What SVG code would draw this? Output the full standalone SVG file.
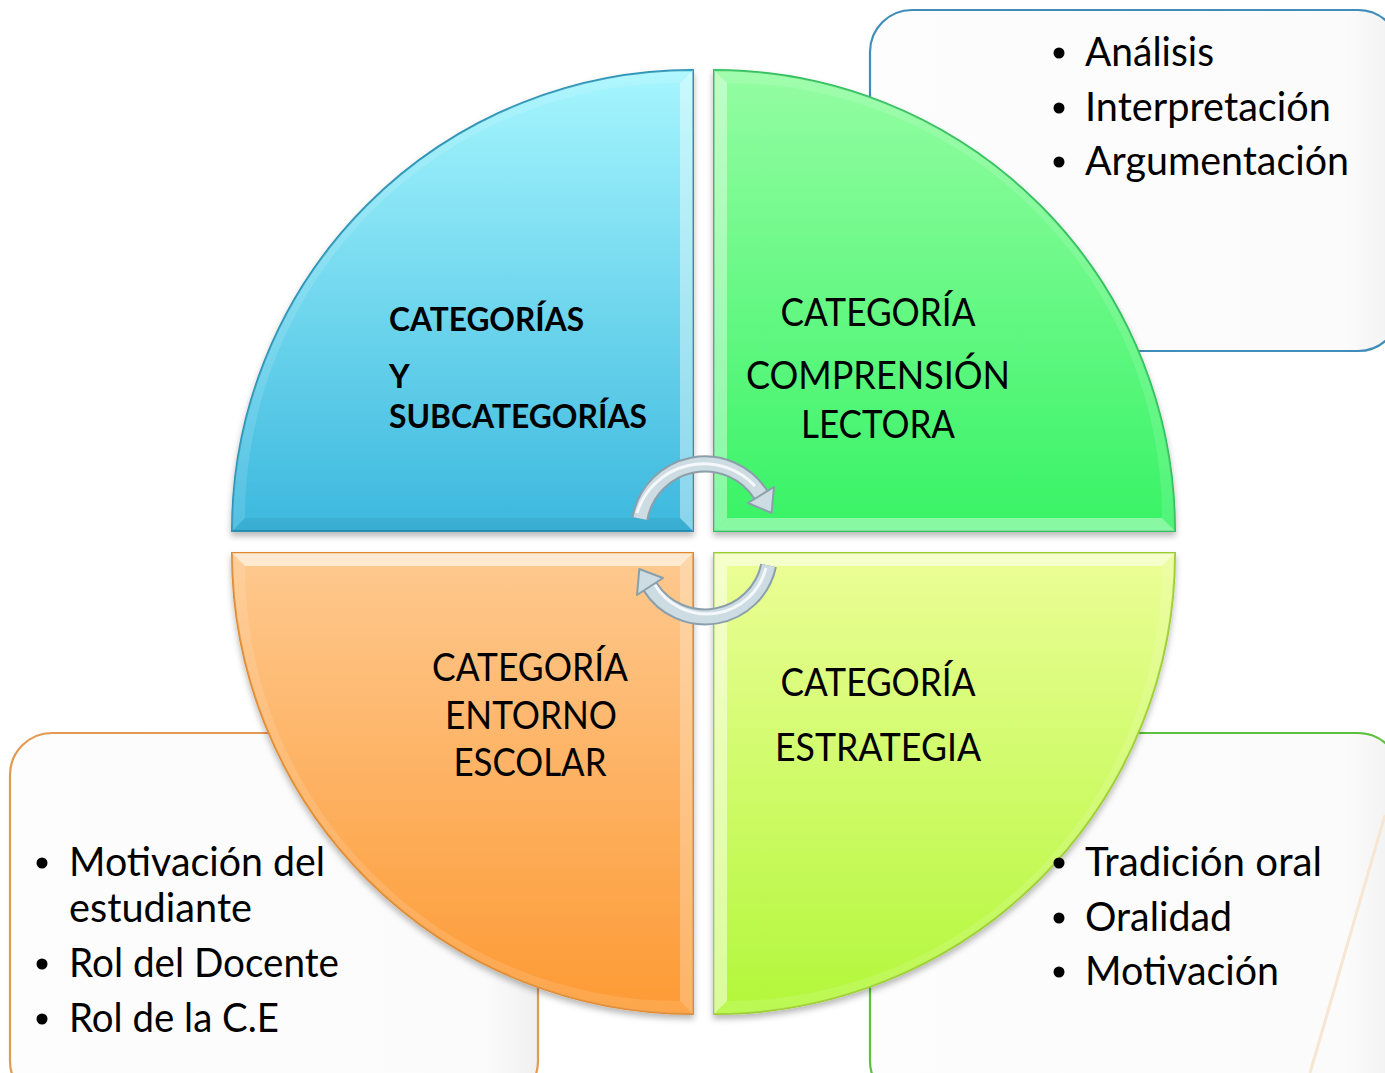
<svg xmlns="http://www.w3.org/2000/svg" width="1385" height="1073" viewBox="0 0 1385 1073">
<style>
.box{fill:url(#boxg);stroke-width:2.2}
.bt{font-family:Lato,"Liberation Sans",sans-serif;font-size:40px;fill:#000}
.ct{font-family:Lato,"Liberation Sans",sans-serif;font-size:38px;fill:#000;text-anchor:middle}
.cb{font-family:Lato,"Liberation Sans",sans-serif;font-size:32px;font-weight:bold;fill:#000}
.lite{fill:#fff;opacity:0.4}
.dark{fill:#000;opacity:0.05}
.arcb{fill:#fff;opacity:0.12}
.arrO{fill:none;stroke:#8b9fab;stroke-width:17}
.arrI{fill:none;stroke:#cddbe2;stroke-width:13}
.arrH{fill:none;stroke:#f4f8fa;stroke-width:3}
.head{fill:#cddbe2;stroke:#8b9fab;stroke-width:2;stroke-linejoin:round}
</style>
<defs>
<linearGradient id="boxg" x1="0" y1="0" x2="1" y2="0"><stop offset="0" stop-color="#fdfdfd"/><stop offset="0.9" stop-color="#fbfbfb"/><stop offset="1" stop-color="#f0f0f0"/></linearGradient>
<linearGradient id="gB" x1="0" y1="0" x2="0" y2="1"><stop offset="0" stop-color="#a6f6fe"/><stop offset="1" stop-color="#3cb8de"/></linearGradient>
<linearGradient id="gG" x1="0" y1="0" x2="0" y2="1"><stop offset="0" stop-color="#94fda2"/><stop offset="1" stop-color="#38f366"/></linearGradient>
<linearGradient id="gO" x1="0" y1="0" x2="0" y2="1"><stop offset="0" stop-color="#fec98f"/><stop offset="1" stop-color="#fd9a34"/></linearGradient>
<linearGradient id="gL" x1="0" y1="0" x2="0" y2="1"><stop offset="0" stop-color="#ecfe97"/><stop offset="1" stop-color="#b2f73a"/></linearGradient>
<filter id="sh" x="-10%" y="-10%" width="120%" height="120%"><feDropShadow dx="0" dy="4" stdDeviation="3" flood-color="#000" flood-opacity="0.28"/></filter>
</defs>

<g id="box-tr"><rect class="box" x="870" y="10" width="530" height="341" rx="42" stroke="#3f8db8"/></g>
<g id="box-bl"><rect class="box" x="10" y="733" width="528" height="370" rx="42" stroke="#e39a50"/></g>
<g id="box-br"><rect class="box" x="870" y="733" width="530" height="370" rx="42" stroke="#5cc23e"/></g>
<line x1="1385" y1="815" x2="1310" y2="1073" stroke="#f6e6d2" stroke-width="3"/>

<g id="q-tl" filter="url(#sh)">
<path d="M693,531 H232 A461,461 0 0 1 693,70 Z" fill="url(#gB)" stroke="#2a93b6" stroke-width="2"/>
<polygon class="lite" points="693,70 693,531 680,518 680,83"/>
<polygon class="dark" points="232,531 693,531 680,518 245,518"/>
<path class="arcb" d="M232,531 A461,461 0 0 1 693,70 L680,83 A435,435 0 0 0 245,518 Z"/>
</g>
<g id="q-tr" filter="url(#sh)">
<path d="M714,531 V70 A461,461 0 0 1 1175,531 Z" fill="url(#gG)" stroke="#30c05c" stroke-width="2"/>
<polygon class="lite" points="714,70 714,531 727,518 727,83"/>
<polygon class="lite" points="714,531 1175,531 1162,518 727,518"/>
<path class="arcb" d="M714,70 A461,461 0 0 1 1175,531 L1162,518 A435,435 0 0 0 727,83 Z"/>
</g>
<g id="q-bl" filter="url(#sh)">
<path d="M693,553 V1014 A461,461 0 0 1 232,553 Z" fill="url(#gO)" stroke="#e08a2e" stroke-width="2"/>
<polygon class="lite" points="232,553 693,553 680,566 245,566" style="opacity:0.6"/>
<polygon class="lite" points="693,553 693,1014 680,1001 680,566" style="opacity:0.25"/>
<path class="arcb" d="M693,1014 A461,461 0 0 1 232,553 L245,566 A435,435 0 0 0 680,1001 Z"/>
</g>
<g id="q-br" filter="url(#sh)">
<path d="M714,553 H1175 A461,461 0 0 1 714,1014 Z" fill="url(#gL)" stroke="#9ccf2e" stroke-width="2"/>
<polygon class="lite" points="714,553 1175,553 1162,566 727,566" style="opacity:0.5"/>
<polygon class="lite" points="714,553 714,1014 727,1001 727,566" style="opacity:0.5"/>
<path class="arcb" d="M1175,553 A461,461 0 0 1 714,1014 L727,1001 A435,435 0 0 0 1162,566 Z"/>
</g>

<g id="connectors">
<g id="arrow-top">
<path class="arrO" d="M640,518.5 A66,66 0 0 1 761,495"/>
<path class="arrI" d="M640,518.5 A66,66 0 0 1 761,495"/>
<path class="arrH" d="M637,513 A70,70 0 0 1 755,486"/>
<polygon class="head" points="774,487 748,503 771.6,513"/>
</g>
<g id="arrow-bottom">
<path class="arrO" d="M768.6,565.5 A65,65 0 0 1 649.9,586.4"/>
<path class="arrI" d="M768.6,565.5 A65,65 0 0 1 649.9,586.4"/>
<path class="arrH" d="M766,568 A61,61 0 0 1 655,585"/>
<polygon class="head" points="637,595 663,578 639.3,569"/>
</g>
</g>

<g id="label-tl">
<text class="cb" x="389" y="331" textLength="195" lengthAdjust="spacingAndGlyphs">CATEGORÍAS</text>
<text class="cb" x="389" y="388">Y</text>
<text class="cb" x="389" y="428" textLength="258" lengthAdjust="spacingAndGlyphs">SUBCATEGORÍAS</text>
</g>
<g id="label-tr">
<text class="ct" x="878" y="326" textLength="195" lengthAdjust="spacingAndGlyphs">CATEGORÍA</text>
<text class="ct" x="878" y="389" textLength="264" lengthAdjust="spacingAndGlyphs">COMPRENSIÓN</text>
<text class="ct" x="878" y="438" textLength="154" lengthAdjust="spacingAndGlyphs">LECTORA</text>
</g>
<g id="label-bl">
<text class="ct" x="530" y="681" textLength="196" lengthAdjust="spacingAndGlyphs">CATEGORÍA</text>
<text class="ct" x="531" y="729" textLength="172" lengthAdjust="spacingAndGlyphs">ENTORNO</text>
<text class="ct" x="530" y="776" textLength="153" lengthAdjust="spacingAndGlyphs">ESCOLAR</text>
</g>
<g id="label-br">
<text class="ct" x="878" y="696" textLength="195" lengthAdjust="spacingAndGlyphs">CATEGORÍA</text>
<text class="ct" x="878" y="761" textLength="206" lengthAdjust="spacingAndGlyphs">ESTRATEGIA</text>
</g>

<g id="list-tr">
<circle cx="1059" cy="53" r="5.5"/><text class="bt" x="1085" y="66" textLength="129" lengthAdjust="spacingAndGlyphs">Análisis</text>
<circle cx="1059" cy="108" r="5.5"/><text class="bt" x="1085" y="121" textLength="246" lengthAdjust="spacingAndGlyphs">Interpretación</text>
<circle cx="1059" cy="162" r="5.5"/><text class="bt" x="1085" y="175" textLength="264" lengthAdjust="spacingAndGlyphs">Argumentación</text>
</g>
<g id="list-bl">
<circle cx="42" cy="863" r="5.5"/><text class="bt" x="69" y="876" textLength="256" lengthAdjust="spacingAndGlyphs">Motivación del</text>
<text class="bt" x="69" y="922" textLength="183" lengthAdjust="spacingAndGlyphs">estudiante</text>
<circle cx="42" cy="964" r="5.5"/><text class="bt" x="69" y="977" textLength="270" lengthAdjust="spacingAndGlyphs">Rol del Docente</text>
<circle cx="42" cy="1019" r="5.5"/><text class="bt" x="69" y="1032" textLength="210" lengthAdjust="spacingAndGlyphs">Rol de la C.E</text>
</g>
<g id="list-br">
<circle cx="1059" cy="863" r="5.5"/><text class="bt" x="1085" y="876" textLength="237" lengthAdjust="spacingAndGlyphs">Tradición oral</text>
<circle cx="1059" cy="918" r="5.5"/><text class="bt" x="1085" y="931" textLength="147" lengthAdjust="spacingAndGlyphs">Oralidad</text>
<circle cx="1059" cy="972" r="5.5"/><text class="bt" x="1085" y="985" textLength="194" lengthAdjust="spacingAndGlyphs">Motivación</text>
</g>
</svg>
